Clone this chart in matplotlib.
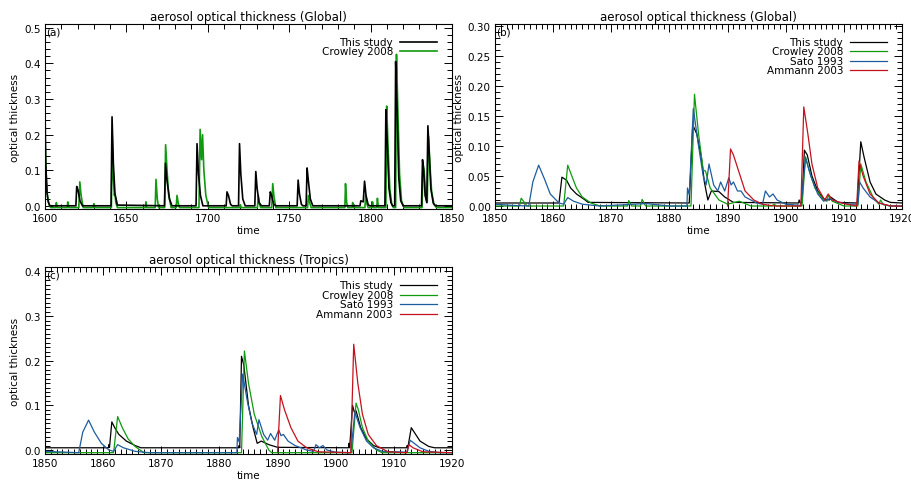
import matplotlib
matplotlib.use("Agg")
import matplotlib.pyplot as plt
from matplotlib.ticker import MultipleLocator, FormatStrFormatter

# ---------------- panel (a): global 1600-1850 ----------------
a_black_yr = [1600.0, 1600.5, 1601.2, 1602, 1603,
              1619.0, 1619.5, 1620.3, 1621.5, 1623,
              1640.6, 1641.2, 1642, 1643, 1644.5,
              1673.4, 1674.0, 1675, 1676.5, 1678,
              1692.8, 1693.4, 1694.3, 1695.5, 1697,
              1711.3, 1711.8, 1712.7, 1714, 1715,
              1718.9, 1719.5, 1720.3, 1721.5, 1723,
              1728.9, 1729.5, 1730.3, 1731.5, 1733,
              1737.8, 1738.4, 1739.2, 1740.5, 1742,
              1754.9, 1755.5, 1756.3, 1757.5, 1758.5,
              1760.4, 1761.0, 1761.8, 1763, 1764.5,
              1793.5, 1794, 1795.5, 1796.3, 1797.2, 1798.5, 1799.5,
              1808.8, 1809.4, 1810.2, 1811.3, 1812.5, 1813.5,
              1814.8, 1815.4, 1816.2, 1817.3, 1818.5, 1820,
              1831.3, 1831.9, 1832.6, 1833.5, 1834.5, 1835.2, 1836, 1837, 1838.5, 1840, 1850]
a_black_val = [0.28, 0.12, 0.04, 0.012, 0.001,
               0.001, 0.055, 0.045, 0.015, 0.001,
               0.001, 0.25, 0.12, 0.035, 0.003,
               0.001, 0.12, 0.07, 0.02, 0.001,
               0.001, 0.175, 0.09, 0.03, 0.001,
               0.001, 0.04, 0.03, 0.005, 0.001,
               0.001, 0.175, 0.09, 0.02, 0.001,
               0.001, 0.097, 0.05, 0.01, 0.001,
               0.001, 0.04, 0.03, 0.005, 0.001,
               0.001, 0.073, 0.035, 0.005, 0.001,
               0.001, 0.107, 0.07, 0.02, 0.001,
               0.001, 0.015, 0.012, 0.07, 0.03, 0.004, 0.001,
               0.001, 0.27, 0.18, 0.05, 0.01, 0.001,
               0.001, 0.405, 0.28, 0.08, 0.015, 0.001,
               0.001, 0.13, 0.1, 0.03, 0.01, 0.225, 0.15, 0.05, 0.008, 0.001, 0.001]

a_green_yr = [1600, 1600.6, 1601.5, 1602.5, 1603.5,
              1606.7, 1607, 1607.5, 1613.7, 1614, 1614.6,
              1620.8, 1621.4, 1622.2, 1623.5, 1629.7, 1630, 1630.5,
              1640.8, 1641.3, 1642, 1642.6, 1643, 1643.5, 1644.5,
              1661.7, 1662, 1662.5, 1667.7, 1668.2, 1669, 1669.8,
              1673.5, 1674.1, 1675, 1676, 1677.5,
              1680.6, 1681.1, 1682, 1682.6,
              1694.6, 1695.3, 1696.2, 1696.8, 1697.6, 1698.8, 1700.5,
              1719.5, 1720, 1720.6, 1730.5, 1731, 1731.8, 1732.5,
              1739.3, 1739.9, 1740.7, 1741.8, 1761.3, 1761.8, 1762.6, 1763.5,
              1784.2, 1784.6, 1785.3, 1786, 1788.7, 1789, 1789.5,
              1796.5, 1797, 1797.8, 1798.5, 1800.8, 1801.2, 1801.7,
              1803.8, 1804.2, 1804.8,
              1809.4, 1809.9, 1810.7, 1811.8, 1813, 1814,
              1815.4, 1815.9, 1816.7, 1817.8, 1819, 1820.5,
              1831.6, 1832.2, 1832.9, 1833.8, 1834.8, 1835.6, 1836.4, 1837.5, 1839, 1840.5, 1850]
a_green_val = [0.2, 0.1, 0.03, 0.005, -0.004,
               -0.004, 0.01, -0.004, -0.004, 0.012, -0.004,
               -0.004, 0.068, 0.03, -0.004, -0.004, 0.007, -0.004,
               -0.004, 0.2, 0.08, 0.03, 0.035, 0.01, -0.004,
               -0.004, 0.012, -0.004, -0.004, 0.075, 0.02, -0.004,
               -0.004, 0.172, 0.1, 0.03, -0.004,
               -0.004, 0.03, 0.005, -0.004,
               -0.004, 0.215, 0.13, 0.2, 0.1, 0.03, -0.004,
               -0.004, 0.004, -0.004, -0.004, 0.03, 0.005, -0.004,
               -0.004, 0.063, 0.025, -0.004, -0.004, 0.03, 0.01, -0.004,
               -0.004, 0.063, 0.01, -0.004, -0.004, 0.01, -0.004,
               -0.004, 0.03, 0.005, -0.004, -0.004, 0.012, -0.004,
               -0.004, 0.022, -0.004,
               -0.004, 0.28, 0.17, 0.05, 0.005, -0.004,
               -0.004, 0.425, 0.28, 0.09, 0.015, -0.004,
               -0.004, 0.12, 0.1, 0.03, 0.01, 0.195, 0.12, 0.04, 0.004, -0.004, -0.004]

# ---------------- panel (b): global 1850-1920 ----------------
b_black_yr = [1850, 1861.0, 1861.5, 1862.3, 1863, 1864, 1865.5, 1866,
              1883.4, 1884.0, 1884.7, 1885.5, 1886.0, 1886.6, 1887.2, 1888.5, 1889.5, 1891,
              1902.2, 1902.3, 1902.5, 1902.8, 1903.2, 1903.7, 1904.5, 1905.5, 1906.5,
              1907.5, 1907.7, 1909,
              1912.3, 1912.9, 1913.5, 1914.5, 1915.5, 1917, 1918, 1920]
b_black_val = [0.005, 0.005, 0.048, 0.043, 0.03, 0.02, 0.01, 0.006,
               0.005, 0.135, 0.12, 0.08, 0.04, 0.01, 0.025, 0.024, 0.015, 0.006,
               0.005, 0.01, 0.005, 0.006, 0.093, 0.085, 0.05, 0.025, 0.012,
               0.01, 0.015, 0.006,
               0.005, 0.107, 0.08, 0.04, 0.02, 0.01, 0.006, 0.005]

b_green_yr = [1850, 1854.2, 1854.5, 1855.5,
              1861.8, 1862.5, 1863.2, 1864, 1865, 1866.5, 1868,
              1872.8, 1873, 1873.5, 1875.0, 1875.3, 1875.9,
              1883.7, 1884.3, 1885, 1885.8, 1886.2, 1887, 1888.5, 1890, 1892, 1894,
              1897.6, 1898, 1898.4,
              1902.8, 1903.4, 1904, 1905, 1906.5, 1907.1, 1907.3, 1908, 1910,
              1912.4, 1912.9, 1913.8, 1915, 1916, 1916.3, 1916.8, 1918, 1920]
b_green_val = [0.0, 0.0, 0.013, 0.0,
               0.0, 0.068, 0.05, 0.03, 0.015, 0.005, 0.0,
               0.0, 0.009, 0.0, 0.0, 0.011, 0.0,
               0.0, 0.186, 0.12, 0.06, 0.058, 0.03, 0.01, 0.003, 0.008, 0.0,
               0.0, 0.003, 0.0,
               0.0, 0.082, 0.06, 0.03, 0.01, 0.008, 0.018, 0.008, 0.0,
               0.0, 0.07, 0.04, 0.015, 0.003, 0.01, 0.002, 0.0, 0.0]

b_blue_yr = [1850, 1853, 1855.8, 1856.5, 1857.5, 1858.5, 1859.5, 1861, 1861.8,
             1862.5, 1863.5, 1865, 1868, 1876, 1880, 1883.0,
             1883.1, 1883.4, 1884.1, 1885, 1885.8, 1886.3, 1886.8, 1887.6, 1888.3,
             1888.8, 1889.5, 1890.2, 1890.6, 1891, 1891.7, 1892.3, 1893, 1895,
             1896.0, 1896.5, 1897.2, 1897.8, 1898.5, 1900, 1902.6,
             1903.4, 1904.3, 1905.5, 1906.5, 1907.5, 1909, 1911, 1912.4,
             1912.7, 1913.3, 1914.5, 1916, 1918, 1920]
b_blue_val = [0.003, 0.001, 0.0, 0.04, 0.068, 0.045, 0.02, 0.005, 0.003,
              0.014, 0.008, 0.003, 0.0, 0.004, 0.0, 0.0,
              0.03, 0.018, 0.162, 0.1, 0.05, 0.035, 0.07, 0.035, 0.025,
              0.04, 0.025, 0.047, 0.035, 0.04, 0.025, 0.025, 0.015, 0.005,
              0.003, 0.025, 0.015, 0.02, 0.01, 0.003, 0.001,
              0.08, 0.05, 0.02, 0.008, 0.012, 0.006, 0.003, 0.003,
              0.04, 0.03, 0.015, 0.005, 0.0, 0.0]

b_red_yr = [1890.0, 1890.5, 1891, 1892, 1893, 1894.5, 1896, 1898, 1902.6,
            1903.1, 1903.8, 1904.5, 1905.5, 1906.7, 1907.3, 1908, 1910, 1912.2,
            1912.6, 1913.3, 1914.5, 1916, 1918, 1920]
b_red_val = [0.0, 0.095, 0.085, 0.055, 0.025, 0.01, 0.003, 0.0, 0.0,
             0.165, 0.12, 0.07, 0.03, 0.01, 0.02, 0.01, 0.004, 0.0,
             0.075, 0.05, 0.02, 0.005, 0.0, 0.0]

# ---------------- panel (c): tropics 1850-1920 ----------------
c_black_yr = [1850, 1860.9, 1861.0, 1861.1, 1861.5, 1862, 1862.7, 1864, 1865.5, 1866.5,
              1883.3, 1883.4, 1883.5, 1883.8, 1884.2, 1885, 1885.8, 1886.5, 1887.2, 1888.5, 1890,
              1902.2, 1902.3, 1902.4, 1902.9, 1903.2, 1903.5, 1904.3, 1905.3, 1906.5, 1907.5,
              1912.2, 1912.3, 1912.4, 1913, 1913.5, 1914.5, 1916, 1917, 1920]
c_black_val = [0.005, 0.005, 0.012, 0.006, 0.063, 0.05, 0.035, 0.02, 0.01, 0.005,
               0.005, 0.01, 0.005, 0.21, 0.19, 0.1, 0.05, 0.015, 0.02, 0.012, 0.006,
               0.005, 0.015, 0.005, 0.1, 0.085, 0.088, 0.05, 0.025, 0.01, 0.005,
               0.005, 0.01, 0.005, 0.05, 0.04, 0.02, 0.008, 0.005, 0.005]

c_green_yr = [1850, 1861.8, 1862.5, 1863.3, 1864.3, 1865.5, 1867,
              1883.8, 1884.3, 1885, 1886, 1887.3, 1888.5, 1889,
              1902.8, 1903.5, 1903.9, 1904.6, 1905.6, 1907, 1908, 1920]
c_green_val = [-0.006, -0.006, 0.075, 0.05, 0.025, 0.008, -0.006,
               -0.006, 0.222, 0.15, 0.08, 0.03, 0.0, -0.006,
               -0.006, 0.105, 0.09, 0.05, 0.02, 0.0, -0.006, -0.006]

c_blue_yr = [1850, 1855.8, 1856.5, 1857.5, 1858.5, 1859.7, 1861, 1861.8,
             1862.5, 1863.5, 1865.5, 1868, 1883.0,
             1883.1, 1883.4, 1884.0, 1884.8, 1885.6, 1886.4, 1886.8, 1887.6, 1888.3,
             1888.8, 1889.5, 1890.2, 1890.6, 1891, 1891.8, 1893, 1895,
             1896.2, 1896.6, 1897.2, 1897.8, 1898.5, 1900, 1902.6,
             1903.3, 1904.2, 1905.3, 1906.5, 1908, 1912.3,
             1912.8, 1913.5, 1914.5, 1916, 1918, 1920]
c_blue_val = [-0.003, -0.006, 0.04, 0.067, 0.04, 0.015, 0.0, -0.003,
              0.012, 0.005, -0.003, -0.006, -0.006,
              0.028, 0.018, 0.17, 0.11, 0.06, 0.035, 0.068, 0.035, 0.022,
              0.037, 0.022, 0.045, 0.032, 0.035, 0.02, 0.01, 0.0,
              -0.003, 0.012, 0.005, 0.01, 0.0, -0.005, -0.006,
              0.085, 0.05, 0.02, 0.005, -0.003, -0.005,
              0.022, 0.015, 0.005, -0.003, -0.006, -0.006]

c_red_yr = [1890.0, 1890.5, 1891.2, 1892.3, 1893.5, 1895, 1897, 1902.6,
            1903.1, 1903.8, 1904.6, 1905.6, 1907, 1909, 1912.2,
            1912.6, 1913.3, 1915, 1920]
c_red_val = [-0.006, 0.122, 0.09, 0.05, 0.02, 0.005, -0.004, -0.006,
             0.237, 0.15, 0.08, 0.035, 0.01, -0.004, -0.006,
             0.012, 0.005, -0.004, -0.006]

labels = ["This study", "Crowley 2008", "Sato 1993", "Ammann 2003"]
colors = ["black", "#109a10", "#1f5c9e", "#c4121c"]


def style_axes(ax, title, tag, xlim, ylim, xmaj, xmin, ymaj, ymin, yfmt):
    ax.set_xlim(xlim)
    ax.set_ylim(ylim)
    ax.xaxis.set_major_locator(MultipleLocator(xmaj))
    ax.xaxis.set_minor_locator(MultipleLocator(xmin))
    ax.yaxis.set_major_locator(MultipleLocator(ymaj))
    ax.yaxis.set_minor_locator(MultipleLocator(ymin))
    ax.yaxis.set_major_formatter(FormatStrFormatter(yfmt))
    ax.tick_params(which="both", direction="in", top=True, right=True,
                   labelsize=7.5, width=0.7)
    ax.tick_params(which="major", length=6, pad=3)
    ax.tick_params(which="minor", length=3.5)
    for s in ax.spines.values():
        s.set_linewidth(0.8)
    ax.set_title(title, fontsize=8.5, pad=3)
    ax.set_xlabel("time", fontsize=7.5, labelpad=1)
    ax.set_ylabel("optical thickness", fontsize=7.5, labelpad=3)
    ax.text(0.003, 0.985, tag, transform=ax.transAxes, fontsize=7.5,
            ha="left", va="top")


def draw_legend(ax, n, lw):
    # IDL-style legend: label right-aligned, line segment to its right
    for i in range(n):
        y = 0.905 - i * 0.052
        ax.text(0.855, y, labels[i], transform=ax.transAxes, fontsize=7.5,
                ha="right", va="center")
        ax.plot([0.873, 0.962], [y, y], transform=ax.transAxes,
                color=colors[i], lw=lw)


fig = plt.figure(figsize=(9.12, 4.81), dpi=100)

ax_a = fig.add_axes([0.0493, 0.5634, 0.4463, 0.3846])
ax_a.plot(a_green_yr, a_green_val, color=colors[1], lw=1.2)
ax_a.plot(a_black_yr, a_black_val, color=colors[0], lw=1.2)
style_axes(ax_a, "aerosol optical thickness (Global)", "(a)",
           (1600, 1850), (-0.008, 0.51), 50, 10, 0.1, 0.02, "%.1f")
draw_legend(ax_a, 2, 1.2)

ax_b = fig.add_axes([0.5428, 0.5634, 0.4463, 0.3846])
ax_b.plot(b_black_yr, b_black_val, color=colors[0], lw=0.9)
ax_b.plot(b_green_yr, b_green_val, color=colors[1], lw=0.9)
ax_b.plot(b_blue_yr, b_blue_val, color=colors[2], lw=0.9)
ax_b.plot(b_red_yr, b_red_val, color=colors[3], lw=0.9)
style_axes(ax_b, "aerosol optical thickness (Global)", "(b)",
           (1850, 1920), (-0.005, 0.303), 10, 1, 0.05, 0.01, "%.2f")
draw_legend(ax_b, 4, 0.9)

ax_c = fig.add_axes([0.0493, 0.054, 0.4463, 0.3888])
ax_c.plot(c_black_yr, c_black_val, color=colors[0], lw=0.9)
ax_c.plot(c_green_yr, c_green_val, color=colors[1], lw=0.9)
ax_c.plot(c_blue_yr, c_blue_val, color=colors[2], lw=0.9)
ax_c.plot(c_red_yr, c_red_val, color=colors[3], lw=0.9)
style_axes(ax_c, "aerosol optical thickness (Tropics)", "(c)",
           (1850, 1920), (-0.009, 0.41), 10, 1, 0.1, 0.01, "%.1f")
draw_legend(ax_c, 4, 0.9)

fig.savefig("out.png", dpi=100)
